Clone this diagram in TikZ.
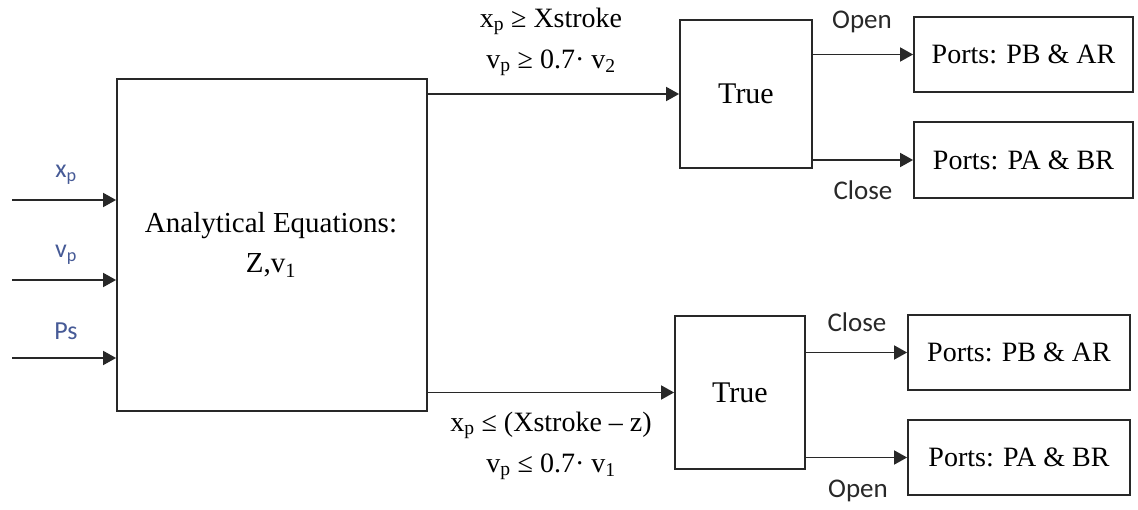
\documentclass[tikz,border=0pt]{standalone}
\usepackage{fontspec}
\setmainfont{Liberation Serif}
\newfontfamily\calib{Carlito}
\usetikzlibrary{arrows.meta}
\definecolor{ink}{RGB}{40,40,40}
\definecolor{inblue}{RGB}{70,90,150}
\tikzset{
  blk/.style={draw=ink,line width=1.8pt,inner sep=0pt,align=center,font=\fontsize{30}{36}\selectfont},
  pbox/.style={blk,minimum width=220pt,minimum height=75pt,font=\fontsize{28}{32}\selectfont},
  arr/.style={draw=ink,line width=1.8pt,-{Triangle[length=13pt,width=14pt]}},
  cond/.style={align=center,inner sep=0pt,font=\fontsize{28}{41}\selectfont},
  oc/.style={inner sep=0pt,font=\calib\fontsize{27}{30}\selectfont,text=ink},
  inl/.style={inner sep=0pt,font=\calib\fontsize{26}{30}\selectfont,text=inblue}
}
\begin{document}
\begin{tikzpicture}[x=1pt,y=-1pt]
\useasboundingbox (0,0) rectangle (1138,510);
% main blocks
\node[blk,minimum width=310pt,minimum height=332pt] (main) at (272,245) {};
\node[inner sep=0pt,align=center,font=\fontsize{29}{40}\selectfont] (maintxt) at (271,245) {Analytical Equations:\\Z,v\textsubscript{1}};
\node[blk,minimum width=132pt,minimum height=148pt] (tt) at (746,94) {True};
\node[blk,minimum width=130pt,minimum height=153pt] (tb) at (740,392.5) {True};
\node[pbox,minimum width=219pt] (p1) at (1023.5,54.5) {Ports: PB \& AR};
\node[pbox,minimum width=219pt,minimum height=76pt] (p2) at (1023.5,160) {Ports: PA \& BR};
\node[pbox,minimum width=222pt] (p3) at (1019,352.5) {Ports: PB \& AR};
\node[pbox,minimum width=222pt] (p4) at (1019,457.5) {Ports: PA \& BR};
% inputs
\coordinate (i1) at (12,200);
\coordinate (i2) at (12,280);
\coordinate (i3) at (12,358);
\draw[arr] (i1) -- (main.west |- i1);
\draw[arr] (i2) -- (main.west |- i2);
\draw[arr] (i3) -- (main.west |- i3);
\node[inl] (lx) at (66,175) {x\textsubscript{p}};
\node[inl] (lv) at (66,255) {v\textsubscript{p}};
\node[inl] (lp) at (66,331) {Ps};
% main to decisions
\draw[arr] (main.east |- tt.west) -- (tt.west);
\draw[arr] (main.east |- tb.west) -- (tb.west);
\node[cond] (c1) at (551,42) {x\textsubscript{p} ≥ Xstroke\\v\textsubscript{p} ≥ 0.7· v\textsubscript{2}};
\node[cond] (c2) at (551,446) {x\textsubscript{p} ≤ (Xstroke – z)\\v\textsubscript{p} ≤ 0.7· v\textsubscript{1}};
% decisions to ports
\draw[arr] (tt.east |- p1.west) -- (p1.west);
\draw[arr] (tt.east |- p2.west) -- (p2.west);
\draw[arr] (tb.east |- p3.west) -- (p3.west);
\draw[arr] (tb.east |- p4.west) -- (p4.west);
\node[oc] (o1) at (862,22) {Open};
\node[oc] (o2) at (863,190) {Close};
\node[oc] (o3) at (857,322) {Close};
\node[oc] (o4) at (858,491) {Open};
\end{tikzpicture}
\end{document}
